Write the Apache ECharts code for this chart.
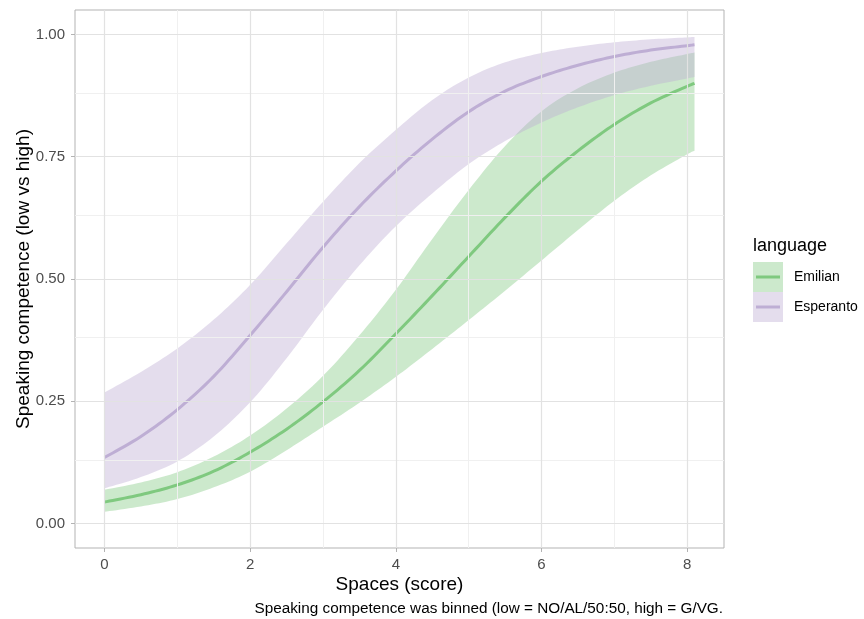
<!DOCTYPE html>
<html><head><meta charset="utf-8">
<script src="https://cdn.jsdelivr.net/npm/echarts@6/dist/echarts.min.js"></script>
<style>html,body{margin:0;padding:0;background:#fff}#c{width:864px;height:619px}</style>
</head><body><div id="c"></div>
<script>
// ---- data ----
const xs = [0, 0.5, 1, 1.5, 2, 2.5, 3, 3.5, 4, 4.5, 5, 5.5, 6, 6.5, 7, 7.5, 8, 8.1];

const emilianFit = [0.044, 0.059, 0.079, 0.107, 0.146, 0.193, 0.249, 0.313, 0.388, 0.466, 0.546, 0.626, 0.700, 0.762, 0.816, 0.860, 0.894, 0.900];
const emilianLo  = [0.024, 0.035, 0.050, 0.074, 0.106, 0.150, 0.198, 0.247, 0.300, 0.357, 0.416, 0.476, 0.538, 0.600, 0.660, 0.712, 0.755, 0.762];
const emilianHi  = [0.069, 0.084, 0.105, 0.137, 0.180, 0.235, 0.302, 0.385, 0.478, 0.582, 0.682, 0.772, 0.843, 0.890, 0.922, 0.944, 0.960, 0.963];

const espFit = [0.135, 0.178, 0.233, 0.301, 0.385, 0.474, 0.565, 0.648, 0.721, 0.786, 0.842, 0.884, 0.914, 0.937, 0.955, 0.968, 0.977, 0.979];
const espLo  = [0.072, 0.095, 0.127, 0.178, 0.248, 0.338, 0.437, 0.528, 0.608, 0.675, 0.735, 0.782, 0.820, 0.851, 0.876, 0.895, 0.910, 0.913];
const espHi  = [0.268, 0.310, 0.358, 0.417, 0.488, 0.573, 0.658, 0.737, 0.805, 0.866, 0.912, 0.943, 0.962, 0.975, 0.984, 0.990, 0.994, 0.995];

const languages = ['Emilian', 'Esperanto'];
const xMajor = [0, 2, 4, 6, 8];
const xMinor = [1, 3, 5, 7];
const xTickLabels = ['0', '2', '4', '6', '8'];
const yMajor = [0, 0.25, 0.5, 0.75, 1];
const yMinor = [0.125, 0.375, 0.625, 0.875];
const yTickLabels = ['0.00', '0.25', '0.50', '0.75', '1.00'];

const xTitle = 'Spaces (score)';
const yTitle = 'Speaking competence (low vs high)';
const legendTitle = 'language';
const caption = 'Speaking competence was binned (low = NO/AL/50:50, high = G/VG.';

// ---- styles ----
const FONT = '"Liberation Sans", Arial, Helvetica, sans-serif';
const GREEN = '#7fc97f', PURPLE = '#beaed4';
const GREEN_FILL = 'rgba(127,201,127,0.4)', PURPLE_FILL = 'rgba(190,174,212,0.42)';

// Catmull-Rom smoothing in pixel space (drawing only)
function spline(pts, n) {
  const out = [];
  const L = pts.length;
  for (let i = 0; i < L - 1; i++) {
    const p0 = pts[Math.max(i - 1, 0)], p1 = pts[i], p2 = pts[i + 1], p3 = pts[Math.min(i + 2, L - 1)];
    for (let s = 0; s < n; s++) {
      const t = s / n, t2 = t * t, t3 = t2 * t;
      const f = k => 0.5 * ((2 * p1[k]) + (-p0[k] + p2[k]) * t +
        (2 * p0[k] - 5 * p1[k] + 4 * p2[k] - p3[k]) * t2 +
        (-p0[k] + 3 * p1[k] - 3 * p2[k] + p3[k]) * t3);
      out.push([f(0), f(1)]);
    }
  }
  out.push(pts[L - 1]);
  return out;
}

function bandSeries(name, lo, hi, fill) {
  return {
    name: name + ' band', type: 'custom', coordinateSystem: 'cartesian2d',
    data: [[xs[0], lo[0]]], silent: true, z: 2, itemStyle: { color: fill },
    renderItem: (params, api) => {
      const up = spline(xs.map((x, i) => api.coord([x, hi[i]])), 10);
      const dn = spline(xs.map((x, i) => api.coord([x, lo[i]])), 10).reverse();
      return { type: 'polygon', shape: { points: up.concat(dn) }, style: { fill: fill }, silent: true };
    }
  };
}
function fitSeries(name, fit, color) {
  return {
    name: name, type: 'custom', coordinateSystem: 'cartesian2d',
    data: [[xs[0], fit[0]]], silent: true, z: 3, itemStyle: { color: color },
    renderItem: (params, api) => {
      const pts = spline(xs.map((x, i) => api.coord([x, fit[i]])), 10);
      return { type: 'polyline', shape: { points: pts },
        style: { stroke: color, lineWidth: 3, fill: null, lineJoin: 'round' }, silent: true };
    }
  };
}

const majorC = '#e2e2e2', minorC = '#f0f0f0';
const gridLines = [
  ...xMinor.map(v => ({ xAxis: v, lineStyle: { color: minorC, width: 1, type: 'solid' } })),
  ...yMinor.map(v => ({ yAxis: v, lineStyle: { color: minorC, width: 1, type: 'solid' } })),
  ...xMajor.map(v => ({ xAxis: v, lineStyle: { color: majorC, width: 1.2, type: 'solid' } })),
  ...yMajor.map(v => ({ yAxis: v, lineStyle: { color: majorC, width: 1.2, type: 'solid' } }))
];

const lineIcon = 'path://M0,0 M33,30 M0,13.5 L24,13.5 L24,16.5 L0,16.5 Z';

const chart = echarts.init(document.getElementById('c'), null, { renderer: 'canvas' });
chart.setOption({
  animation: false,
  backgroundColor: '#ffffff',
  textStyle: { fontFamily: FONT },
  title: [
    { text: legendTitle, left: 753, top: 237, padding: 0,
      textStyle: { fontFamily: FONT, fontSize: 18, fontWeight: 'normal', color: '#000' } },
    { text: caption, right: 141, top: 601, padding: 0,
      textStyle: { fontFamily: FONT, fontSize: 15.3, fontWeight: 'normal', color: '#000' } }
  ],
  grid: { left: 75, right: 140, top: 10, bottom: 71, show: true, outerBoundsMode: 'none',
    borderColor: '#b3b3b3', borderWidth: 1, backgroundColor: 'transparent', containLabel: false },
  legend: [
    { orient: 'vertical', left: 753, top: 262, itemWidth: 30, itemHeight: 30, itemGap: 0,
      selectedMode: false, padding: 0, formatter: () => '',
      data: [
        { name: 'Emilian band', icon: 'rect', itemStyle: { color: GREEN_FILL, borderWidth: 0 } },
        { name: 'Esperanto band', icon: 'rect', itemStyle: { color: PURPLE_FILL, borderWidth: 0 } }
      ] },
    { orient: 'vertical', left: 756, top: 262, itemWidth: 33, itemHeight: 30, itemGap: 0,
      selectedMode: false, padding: 0,
      textStyle: { fontFamily: FONT, fontSize: 14, color: '#000' },
      data: [
        { name: languages[0], icon: lineIcon, itemStyle: { color: GREEN, borderWidth: 0 } },
        { name: languages[1], icon: lineIcon, itemStyle: { color: PURPLE, borderWidth: 0 } }
      ] }
  ],
  xAxis: {
    type: 'value', min: -0.405, max: 8.505,
    name: xTitle, nameLocation: 'middle', nameGap: 27, nameMoveOverlap: false,
    nameTextStyle: { fontFamily: FONT, fontSize: 19, color: '#000' },
    axisLine: { show: false, onZero: false },
    axisTick: { show: true, customValues: xMajor, length: 4, lineStyle: { color: '#b3b3b3', width: 1 } },
    axisLabel: { customValues: xMajor, formatter: v => xTickLabels[xMajor.indexOf(v)],
      color: '#4d4d4d', fontSize: 15, margin: 9, fontFamily: FONT },
    splitLine: { show: false }
  },
  yAxis: {
    type: 'value', min: -0.05, max: 1.05,
    name: yTitle, nameLocation: 'middle', nameGap: 42, nameMoveOverlap: false,
    nameTextStyle: { fontFamily: FONT, fontSize: 19, color: '#000' },
    axisLine: { show: false, onZero: false },
    axisTick: { show: true, customValues: yMajor, length: 4, lineStyle: { color: '#b3b3b3', width: 1 } },
    axisLabel: { customValues: yMajor, formatter: v => yTickLabels[yMajor.indexOf(v)],
      color: '#4d4d4d', fontSize: 15, margin: 10, fontFamily: FONT },
    splitLine: { show: false }
  },
  series: [
    { name: 'gridlines', type: 'line', data: xs.map((x, i) => [x, emilianFit[i]]), symbol: 'none',
      lineStyle: { opacity: 0 }, silent: true, z: 1,
      markLine: { silent: true, symbol: ['none', 'none'], label: { show: false },
        emphasis: { disabled: true }, animation: false, data: gridLines } },
    bandSeries('Emilian', emilianLo, emilianHi, GREEN_FILL),
    fitSeries('Emilian', emilianFit, GREEN),
    bandSeries('Esperanto', espLo, espHi, PURPLE_FILL),
    fitSeries('Esperanto', espFit, PURPLE)
  ]
});
</script>
</body></html>
